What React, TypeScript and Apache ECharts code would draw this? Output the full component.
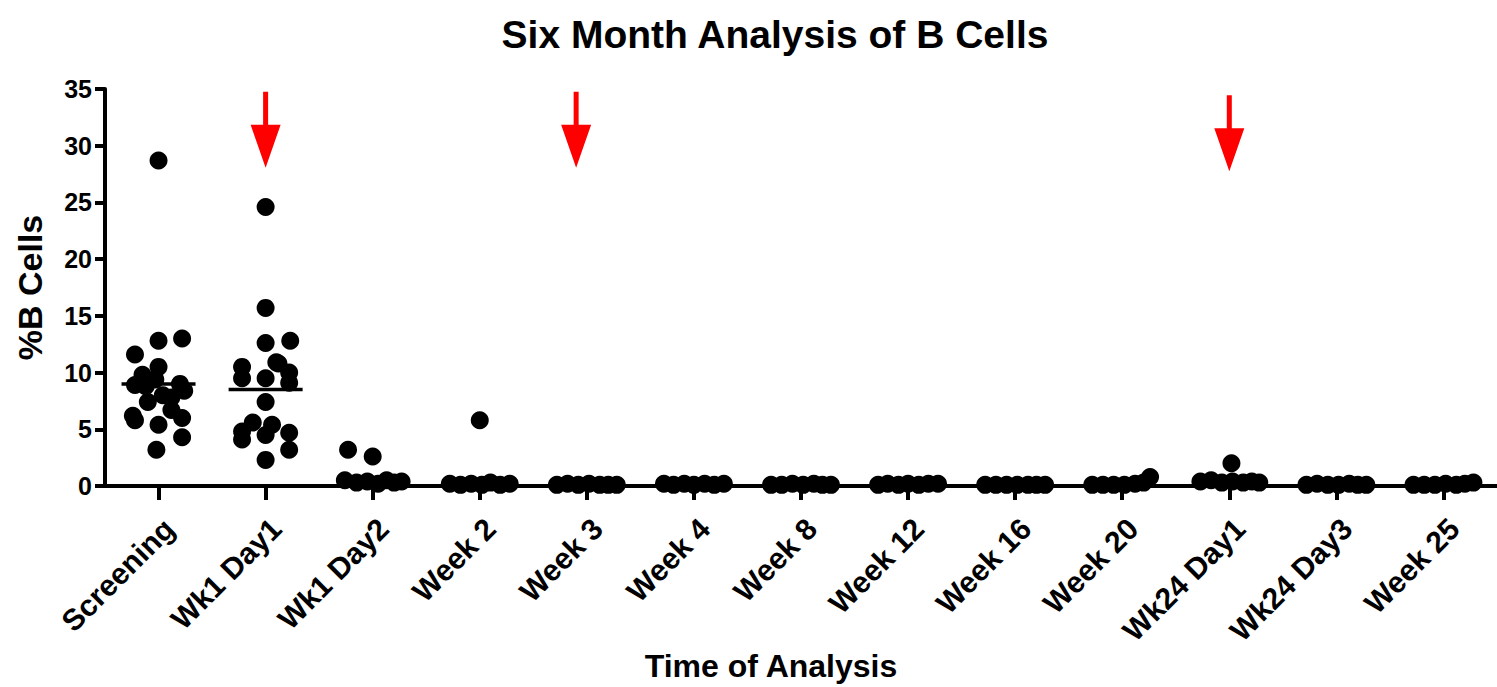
import React, { useEffect, useRef } from "react";
import * as echarts from "echarts";

const categories = [
  "Screening", "Wk1 Day1", "Wk1 Day2", "Week 2", "Week 3", "Week 4", "Week 8",
  "Week 12", "Week 16", "Week 20", "Wk24 Day1", "Wk24 Day3", "Week 25",
];

// [horizontal jitter within the category (category units), %B cells]
const screening = [
  [0, 28.7], [-0.22, 11.6], [0, 12.8], [0.22, 13.0], [-0.22, 8.9], [-0.15, 9.8],
  [0, 10.5], [-0.03, 9.4], [0.2, 9.0], [0.24, 8.4], [-0.1, 7.4], [0.04, 8.0],
  [0.12, 6.7], [-0.24, 6.2], [-0.22, 5.8], [0, 5.4], [0.22, 6.0], [0.22, 4.3],
  [-0.02, 3.2], [0.12, 7.8], [-0.12, 8.8],
];
const wk1Day1 = [
  [0, 24.6], [0, 15.7], [0, 12.6], [0.23, 12.8], [0.1, 10.9], [-0.22, 10.5],
  [-0.22, 9.5], [0, 9.5], [0.12, 10.8], [0.22, 10.0], [0.22, 9.1], [0, 7.4],
  [-0.12, 5.6], [-0.22, 4.8], [-0.22, 4.1], [0, 4.5], [0.06, 5.4], [0.22, 4.7],
  [0.22, 3.2], [0, 2.3],
];
const wk1Day2 = [
  [-0.23, 3.2], [0, 2.6], [-0.26, 0.5], [-0.15, 0.3], [-0.05, 0.4], [0.05, 0.2],
  [0.13, 0.5], [0.2, 0.3], [0.27, 0.4],
];
const week2 = [
  [0, 5.8], [-0.28, 0.2], [-0.18, 0.1], [-0.08, 0.2], [0.02, 0.1], [0.1, 0.3],
  [0.19, 0.1], [0.28, 0.2],
];
const week3 = [
  [-0.28, 0.1], [-0.18, 0.2], [-0.08, 0.1], [0.02, 0.2], [0.12, 0.1], [0.2, 0.1],
  [0.28, 0.1],
];
const week4 = [
  [-0.28, 0.2], [-0.19, 0.1], [-0.09, 0.2], [0.0, 0.1], [0.1, 0.2], [0.19, 0.1],
  [0.28, 0.2],
];
const week8 = [
  [-0.28, 0.1], [-0.18, 0.1], [-0.08, 0.2], [0.02, 0.1], [0.12, 0.2], [0.2, 0.1],
  [0.28, 0.1],
];
const week12 = [
  [-0.28, 0.1], [-0.19, 0.2], [-0.09, 0.1], [0.0, 0.2], [0.1, 0.1], [0.19, 0.2],
  [0.28, 0.2],
];
const week16 = [
  [-0.28, 0.1], [-0.18, 0.1], [-0.08, 0.1], [0.02, 0.1], [0.12, 0.1], [0.2, 0.1],
  [0.28, 0.1],
];
const week20 = [
  [-0.28, 0.1], [-0.18, 0.1], [-0.08, 0.1], [0.02, 0.1], [0.12, 0.2], [0.2, 0.3],
  [0.26, 0.8],
];
const wk24Day1 = [
  [0.02, 2.0], [-0.27, 0.4], [-0.17, 0.5], [-0.07, 0.3], [0.03, 0.4], [0.13, 0.3],
  [0.21, 0.4], [0.28, 0.3],
];
const wk24Day3 = [
  [-0.28, 0.1], [-0.18, 0.2], [-0.08, 0.1], [0.02, 0.1], [0.12, 0.2], [0.2, 0.1],
  [0.28, 0.1],
];
const week25 = [
  [-0.28, 0.1], [-0.18, 0.1], [-0.08, 0.1], [0.02, 0.2], [0.12, 0.1], [0.2, 0.2],
  [0.28, 0.3],
];

const groups = [
  screening, wk1Day1, wk1Day2, week2, week3, week4, week8, week12, week16,
  week20, wk24Day1, wk24Day3, week25,
];

// mean lines: [category index, mean]
const means = [[0, 9.0], [1, 8.5]];

// treatment arrows: [category position, centre value]
const arrows = [[1, 31.4], [3.9, 31.4], [10, 31.1]];

const yTicks = { min: 0, max: 35, interval: 5 };

const FONT = "'Liberation Sans', Arial, sans-serif";
const ARROW =
  "path://M12.5,0 L17.5,0 L17.5,33 L30,33 L15,76 L0,33 L12.5,33 Z";

export default function App() {
  const ref = useRef<HTMLDivElement>(null);

  useEffect(() => {
    if (!ref.current) return;
    const chart = echarts.init(ref.current, null, { renderer: "svg" });

    const points: number[][] = [];
    groups.forEach((g, i) => {
      g.forEach(([off, v]) => points.push([i + off, v]));
    });

    chart.setOption({
      animation: false,
      backgroundColor: "#ffffff",
      title: [
        {
          text: "Six Month Analysis of B Cells",
          left: 770,
          top: 10,
          textAlign: "center",
          textStyle: {
            fontFamily: FONT,
            fontWeight: "bold",
            fontSize: 39,
            color: "#000",
          },
        },
        {
          text: "Time of Analysis",
          left: 766,
          top: 645,
          textAlign: "center",
          textStyle: {
            fontFamily: FONT,
            fontWeight: "bold",
            fontSize: 32,
            color: "#000",
          },
        },
      ],
      grid: { left: 105, top: 89, width: 1399, height: 397 },
      xAxis: [
        {
          type: "category",
          data: categories,
          boundaryGap: true,
          axisLine: { show: true, onZero: false, lineStyle: { color: "#000", width: 4 } },
          axisTick: {
            show: true,
            alignWithLabel: true,
            length: 14,
            lineStyle: { color: "#000", width: 4 },
          },
          axisLabel: {
            rotate: 45,
            interval: 0,
            margin: 27,
            verticalAlign: "top",
            fontFamily: FONT,
            fontWeight: "bold",
            fontSize: 30,
            color: "#000",
          },
          splitLine: { show: false },
          z: 1,
        },
        {
          type: "value",
          min: -0.5,
          max: 12.5,
          show: false,
          splitLine: { show: false },
        },
      ],
      yAxis: {
        type: "value",
        min: yTicks.min,
        max: yTicks.max,
        interval: yTicks.interval,
        name: "%B Cells",
        nameLocation: "middle",
        nameGap: 58,
        nameTextStyle: {
          fontFamily: FONT,
          fontWeight: "bold",
          fontSize: 34,
          color: "#000",
        },
        axisLine: { show: true, onZero: false, lineStyle: { color: "#000", width: 4 } },
        axisTick: { show: true, length: 10, lineStyle: { color: "#000", width: 4 } },
        axisLabel: {
          margin: 13,
          fontFamily: FONT,
          fontWeight: "bold",
          fontSize: 25,
          color: "#000",
        },
        splitLine: { show: false },
      },
      series: [
        {
          type: "scatter",
          xAxisIndex: 1,
          data: points,
          symbol: "circle",
          symbolSize: 18,
          itemStyle: { color: "#000", opacity: 1 },
          z: 3,
        },
        {
          type: "scatter",
          xAxisIndex: 1,
          data: means,
          symbol: "rect",
          symbolSize: [74, 3.5],
          itemStyle: { color: "#000", opacity: 1 },
          z: 4,
        },
        {
          type: "scatter",
          xAxisIndex: 1,
          data: arrows,
          symbol: ARROW,
          symbolSize: [30, 76],
          itemStyle: { color: "#ff0000", opacity: 1 },
          z: 5,
        },
      ],
    });

    return () => chart.dispose();
  }, []);

  return (
    <div
      ref={ref}
      style={{ position: "fixed", left: 0, top: 0, width: 1497, height: 687 }}
    />
  );
}
